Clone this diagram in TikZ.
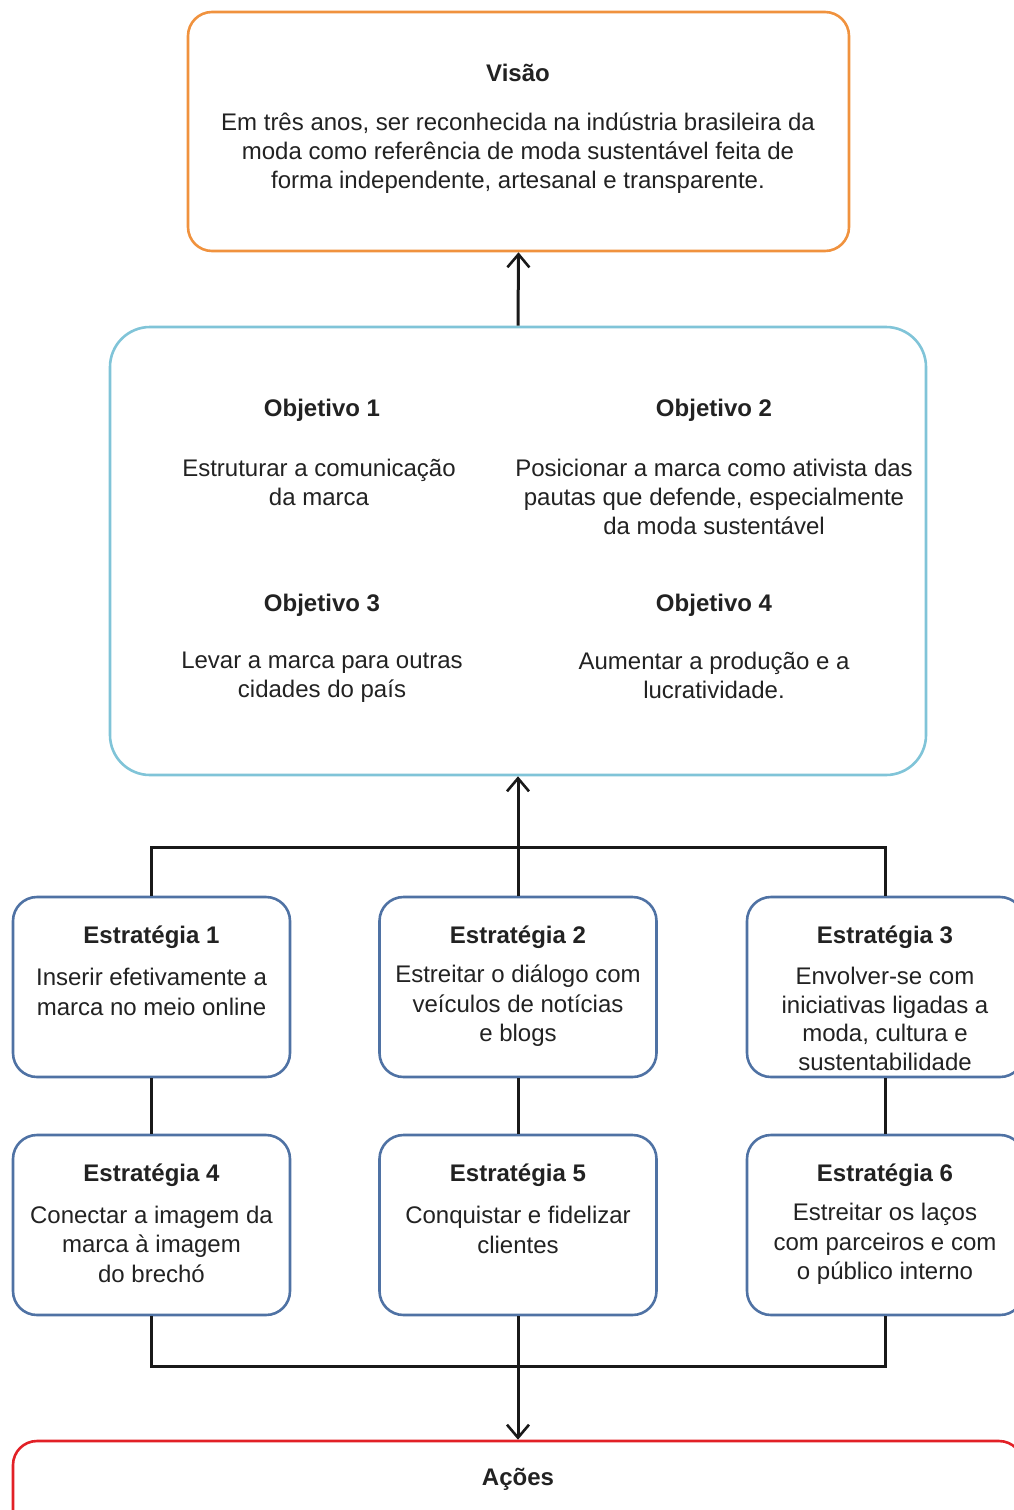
\documentclass[tikz,border=0pt]{standalone}
\usepackage{fontspec}
\setmainfont{Liberation Sans}
\usetikzlibrary{arrows.meta}
\definecolor{visorange}{RGB}{240,146,62}
\definecolor{objblue}{RGB}{128,196,216}
\definecolor{strblue}{RGB}{79,114,164}
\definecolor{acred}{RGB}{226,32,38}
\definecolor{txt}{RGB}{34,34,34}
\begin{document}
\begin{tikzpicture}[x=1pt,y=-1pt,
  every node/.style={text=txt,inner sep=0pt,font=\fontsize{24}{29}\selectfont},
  boxbase/.style={draw,line width=2.6pt,rounded corners=24pt,fill=white},
  visbox/.style={boxbase,draw=visorange},
  objbox/.style={boxbase,draw=objblue,rounded corners=40pt},
  strbox/.style={boxbase,draw=strblue,minimum width=277pt,minimum height=180pt},
  acbox/.style={boxbase,draw=acred},
  ttl/.style={font=\bfseries\fontsize{24}{29}\selectfont},
  body/.style={align=center},
  sbody/.style={align=center,font=\fontsize{24}{29.5}\selectfont},
  conn/.style={line width=3pt,draw=black!90},
  arr/.style={conn,-{Straight Barb[length=13pt,width=22pt,line width=2.6pt]}}
]
\useasboundingbox (0,0) rectangle (1014,1510);
\begin{scope}
\clip (0,0) rectangle (1014,1510);
% boxes
\node[visbox,minimum width=661pt,minimum height=239pt] (vis) at (518.5,131.5) {};
\node[objbox,minimum width=816pt,minimum height=448pt] (obj) at (518,551) {};
\node[strbox] (s1) at (151.5,987) {};
\node[strbox] (s2) at (518,987) {};
\node[strbox] (s3) at (885.5,987) {};
\node[strbox] (s4) at (151.5,1225) {};
\node[strbox] (s5) at (518,1225) {};
\node[strbox] (s6) at (885.5,1225) {};
\node[acbox,minimum width=1010pt,minimum height=110pt] (ac) at (518,1496) {};
% connectors
\coordinate (jt) at (518,847);
\coordinate (jb) at (518,1366);
\draw[arr] (obj.north) -- (vis.south);
\draw[conn] (s1.north) |- (jt) -| (s3.north);
\draw[arr] (s2.north) -- (obj.south);
\draw[conn] (s1.south) -- (s4.north);
\draw[conn] (s2.south) -- (s5.north);
\draw[conn] (s3.south) -- (s6.north);
\draw[conn] (s4.south) |- (jb) -| (s6.south);
\draw[arr] (s5.south) -- (ac.north);
% texts
\node[ttl] (tvis) at (518,73) {Visão};
\node[body] (bvis) at (518,153) {Em três anos, ser reconhecida na indústria brasileira da\\moda como referência de moda sustentável feita de\\forma independente, artesanal e transparente.};
\node[ttl] (to1) at (322,410) {Objetivo 1};
\node[body] (bo1) at (319,482) {Estruturar a comunicação\\da marca};
\node[ttl] (to2) at (714,410) {Objetivo 2};
\node[body] (bo2) at (714,497) {Posicionar a marca como ativista das\\pautas que defende, especialmente\\da moda sustentável};
\node[ttl] (to3) at (322,605) {Objetivo 3};
\node[body] (bo3) at (322,677) {Levar a marca para outras\\cidades do país};
\node[ttl] (to4) at (714,605) {Objetivo 4};
\node[body] (bo4) at (714,675) {Aumentar a produção e a\\lucratividade.};
\node[ttl] (ts1) at (151.5,937) {Estratégia 1};
\node[sbody] (bs1) at (151.5,992) {Inserir efetivamente a\\marca no meio online};
\node[ttl] (ts2) at (518,937) {Estratégia 2};
\node[sbody] (bs2) at (518,1006) {Estreitar o diálogo com\\veículos de notícias\\e blogs};
\node[ttl] (ts3) at (885,937) {Estratégia 3};
\node[align=center,font=\fontsize{24}{28.5}\selectfont] (bs3) at (885,1019) {Envolver-se com\\iniciativas ligadas a\\moda, cultura e\\sustentabilidade};
\node[ttl] (ts4) at (151.5,1175) {Estratégia 4};
\node[sbody] (bs4) at (151.5,1244) {Conectar a imagem da\\marca à imagem\\do brechó};
\node[ttl] (ts5) at (518,1175) {Estratégia 5};
\node[sbody] (bs5) at (518,1230) {Conquistar e fidelizar\\clientes};
\node[ttl] (ts6) at (885,1175) {Estratégia 6};
\node[sbody] (bs6) at (885,1244) {Estreitar os laços\\com parceiros e com\\o público interno};
\node[ttl] (tac) at (518,1479) {Ações};
\end{scope}
\end{tikzpicture}
\end{document}
